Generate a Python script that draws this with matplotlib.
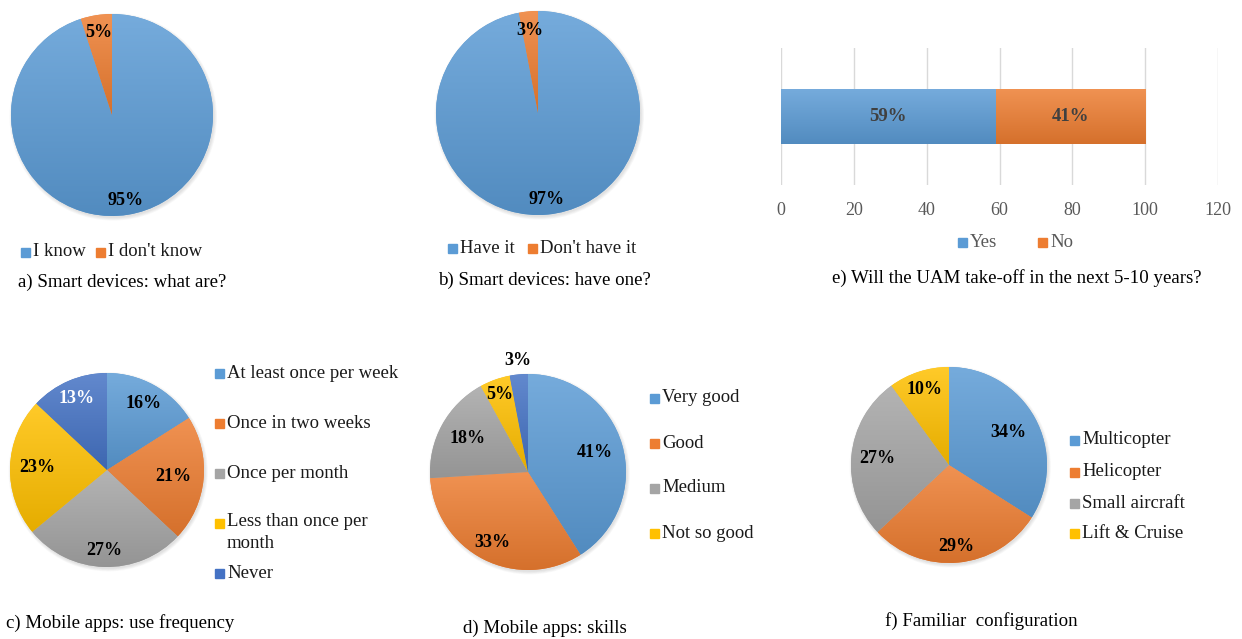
import textwrap
import numpy as np
import matplotlib
matplotlib.use("Agg")
import matplotlib.pyplot as plt
import matplotlib.colors as mcolors
from matplotlib.patches import Circle, Rectangle

plt.rcParams['font.family'] = ['Liberation Serif', 'DejaVu Serif']

# --- survey answers (percent) ---
know_labels = ['I know', "I don't know"]
know_values = [95, 5]

have_labels = ['Have it', "Don't have it"]
have_values = [97, 3]

uam_labels = ['Yes', 'No']
uam_values = [59, 41]

freq_labels = ['At least once per week', 'Once in two weeks', 'Once per month',
               'Less than once per month', 'Never']
freq_values = [16, 21, 27, 23, 13]

skill_labels = ['Very good', 'Good', 'Medium', 'Not so good']
skill_values = [41, 33, 18, 5, 3]

config_labels = ['Multicopter', 'Helicopter', 'Small aircraft', 'Lift & Cruise']
config_values = [34, 29, 27, 10]

uam_ticks = [0, 20, 40, 60, 80, 100, 120]

# office palette
BLUE, ORANGE, GRAY, GOLD, DBLUE = '#5B9BD5', '#ED7D31', '#A5A5A5', '#FFC000', '#4472C4'
PALETTE = [BLUE, ORANGE, GRAY, GOLD, DBLUE]

W, H = 1242, 639
fig = plt.figure(figsize=(W / 100, H / 100), dpi=100)


def fx(x):
    return x / W


def fy(y):
    return 1 - y / H


def gradient_fill(ax, patch, base):
    rgb = np.array(mcolors.to_rgb(base))
    top = rgb + (1 - rgb) * 0.16
    bot = rgb * 0.9
    t = np.linspace(0, 1, 64)[:, None]
    grad = (top * (1 - t) + bot * t)[:, None, :]
    bb = patch.get_path().get_extents(patch.get_patch_transform())
    im = ax.imshow(grad, extent=(bb.x0, bb.x1, bb.y0, bb.y1), origin='upper',
                   aspect='auto', interpolation='bilinear', zorder=patch.get_zorder() + 0.01)
    im.set_clip_path(patch)


def draw_pie(cx, cy, r, values, dists, text_colors=None):
    ax = fig.add_axes([fx(cx - r), fy(cy + r), 2 * r / W, 2 * r / H])
    # soft drop shadow
    for i in range(5):
        ax.add_patch(Circle((0.012, -0.018), 1.0 + 0.007 * i, color='k', alpha=0.025,
                            zorder=0, clip_on=False, linewidth=0))
    wedges, _ = ax.pie(values, colors=PALETTE[:len(values)], startangle=90, counterclock=False,
                       radius=1, wedgeprops=dict(linewidth=0))
    if text_colors is None:
        text_colors = ['black'] * len(values)
    for w, v, d, tc in zip(wedges, values, dists, text_colors):
        w.set_clip_on(False)
        gradient_fill(ax, w, w.get_facecolor())
        ang = np.deg2rad((w.theta1 + w.theta2) / 2)
        ax.text(d * np.cos(ang), d * np.sin(ang), f'{v}%', ha='center', va='center',
                fontsize=13, fontweight='bold', color=tc, zorder=5)
    ax.set_xlim(-1, 1)
    ax.set_ylim(-1, 1)
    ax.axis('off')
    return ax


def square_legend(entries, text_color='#1a1a1a', size=13.5, wrap=None):
    # entries: (label, color, marker x, marker y) in pixels
    for label, color, x, y in entries:
        fig.patches.append(Rectangle((fx(x - 4.5), fy(y + 4.5)), 9 / W, 9 / H, color=color,
                                     transform=fig.transFigure, figure=fig))
        txt = textwrap.fill(label, wrap) if wrap else label
        if '\n' in txt:
            fig.text(fx(x + 8), fy(y - 10), txt, ha='left', va='top', fontsize=size,
                     color=text_color, linespacing=1.35)
        else:
            fig.text(fx(x + 8), fy(y), txt, ha='left', va='center', fontsize=size,
                     color=text_color)


def caption(x, y, s):
    fig.text(fx(x), fy(y), s, ha='left', va='center', fontsize=13.6, color='black')


# a) smart devices: what are?
draw_pie(112, 115, 101, know_values, [0.86, 0.83])
square_legend([(know_labels[0], BLUE, 25, 252), (know_labels[1], ORANGE, 100, 252)])
caption(18, 282, 'a) Smart devices: what are?')

# b) smart devices: have one?
draw_pie(538, 113, 102, have_values, [0.85, 0.81])
square_legend([(have_labels[0], BLUE, 452, 248), (have_labels[1], ORANGE, 532, 248)])
caption(438, 280, 'b) Smart devices: have one?')

# c) mobile apps: use frequency
draw_pie(107, 470, 97, freq_values, [0.78, 0.69, 0.83, 0.72, 0.80],
         text_colors=['black', 'black', 'black', 'black', 'white'])
square_legend([(lab, col, 219, y) for lab, col, y in
               zip(freq_labels, PALETTE, [373, 423, 473, 523, 573])], wrap=22)
caption(6, 623, 'c) Mobile apps: use frequency')

# d) mobile apps: skills
draw_pie(528, 472, 98, skill_values, [0.71, 0.81, 0.70, 0.84, 1.14])
square_legend([(lab, col, 654, y) for lab, col, y in
               zip(skill_labels, PALETTE, [398, 443, 488, 533])])
caption(463, 628, 'd) Mobile apps: skills')

# f) familiar configuration
draw_pie(949, 465, 98, config_values, [0.69, 0.84, 0.73, 0.81])
square_legend([(lab, col, 1074, y) for lab, col, y in
               zip(config_labels, PALETTE, [440, 472, 503, 533])])
caption(885, 621, 'f) Familiar  configuration')

# e) will the UAM take off?
axb = fig.add_axes([fx(781), fy(185), (1218 - 781) / W, (185 - 48) / H])
left = 0
for val, col in zip(uam_values, [BLUE, ORANGE]):
    bar = axb.barh([0], [val], left=left, height=0.4, color=col, linewidth=0, zorder=2)[0]
    gradient_fill(axb, bar, col)
    axb.text(left + val / 2, 0, f'{val}%', ha='center', va='center', fontsize=13.5,
             fontweight='bold', color='#404040', zorder=5)
    left += val
axb.set_xlim(uam_ticks[0], uam_ticks[-1])
axb.set_ylim(-0.5, 0.5)
axb.set_xticks(uam_ticks)
axb.set_yticks([])
axb.grid(axis='x', color='#D9D9D9', linewidth=1, zorder=0)
axb.set_axisbelow(True)
for s in axb.spines.values():
    s.set_visible(False)
axb.tick_params(axis='x', length=0, pad=12, labelsize=13, labelcolor='#595959')
square_legend([(uam_labels[0], BLUE, 962, 243), (uam_labels[1], ORANGE, 1042, 243)],
              text_color='#595959')
caption(832, 278, 'e) Will the UAM take-off in the next 5-10 years?')

fig.savefig('out.png', dpi=100, facecolor='white')
